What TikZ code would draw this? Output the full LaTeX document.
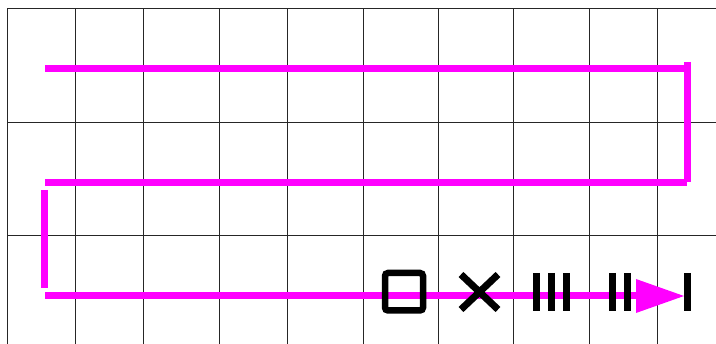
\documentclass[tikz,border=0pt]{standalone}
\begin{document}
\begin{tikzpicture}[x=1pt,y=-1pt,
  gridline/.style={draw=black!85,line width=0.9pt},
  pathline/.style={draw=magenta,line width=7pt,line cap=butt},
  markline/.style={draw=black,line width=7pt,line cap=butt}]
\definecolor{magenta}{RGB}{255,0,255}
\useasboundingbox (0,0) rectangle (716,344);
% grid
\foreach \x in {7,75,143,219,287,363,438,513,589,657}
  \draw[gridline] (\x,8.5) -- (\x,344);
\foreach \y in {8.5,122,235}
  \draw[gridline] (7,\y) -- (716,\y);
% magenta path segments
\draw[pathline] (45,69) -- (685,69);
\draw[pathline] (687.5,62) -- (687.5,182.5);
\draw[pathline] (45,182.5) -- (687,182.5);
\draw[pathline] (44.7,190) -- (44.7,288);
\draw[pathline] (45,295.5) -- (650,295.5);
\fill[magenta] (636,279) -- (684,296) -- (636,313) -- cycle;
% marks
\draw[draw=black,line width=6.5pt,rounded corners=3pt] (385,273) rectangle (423,310.5);
\draw[markline] (461,274.5) -- (498,309.5);
\draw[markline] (461,309.5) -- (498,274.5);
\foreach \x in {536,551,566,612,627,687}
  \draw[markline] (\x,273) -- (\x,311);
\end{tikzpicture}
\end{document}
